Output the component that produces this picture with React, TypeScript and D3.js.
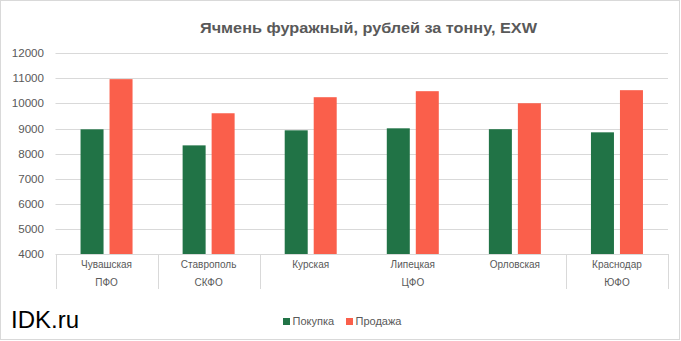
import React from "react";
import * as d3 from "d3";

const categories = ["Чувашская", "Ставрополь", "Курская", "Липецкая", "Орловская", "Краснодар"];
const regions = ["ПФО", "СКФО", "ЦФО", "ЦФО", "ЦФО", "ЮФО"];
const series = ["Покупка", "Продажа"];
const buyValues = [8970, 8330, 8930, 9010, 8975, 8850];
const sellValues = [10970, 9610, 10250, 10490, 10010, 10530];
const yTicks = [4000, 5000, 6000, 7000, 8000, 9000, 10000, 11000, 12000];
const colors = ["#217346", "#FA5F4B"];
const title = "Ячмень фуражный, рублей за тонну, EXW";

const W = 681;
const H = 341;
const FONT = "'Liberation Sans', Arial, sans-serif";

export default function App() {
  const left = 55.5;
  const right = 668;
  const top = 53.3;
  const bottom = 254;

  const x0 = d3.scaleBand<string>().domain(categories).range([left, right]).padding(0);
  const bw = x0.bandwidth();
  const x1 = d3
    .scaleBand<string>()
    .domain(series)
    .range([(bw - 52) / 2, (bw + 52) / 2])
    .paddingInner(6 / 29)
    .paddingOuter(0);
  const y = d3.scaleLinear().domain([4000, 12000]).range([bottom, top]);

  const valuesBySeries = [buyValues, sellValues];

  const groups: { name: string; start: number; end: number }[] = [];
  regions.forEach((r, i) => {
    const g = groups[groups.length - 1];
    if (g && g.name === r) g.end = i;
    else groups.push({ name: r, start: i, end: i });
  });
  const sepX: number[] = [left];
  groups.forEach((g) => sepX.push((x0(categories[g.end]) as number) + bw));

  return (
    <svg
      width={W}
      height={H}
      style={{ position: "absolute", left: 0, top: 0, background: "#fff" }}
      fontFamily={FONT}
    >
      <rect x={0} y={0} width={W} height={H} fill="#fff" />
      <rect x={0.5} y={0.5} width={679} height={339} fill="none" stroke="#d9d9d9" strokeWidth={1} />
      <text
        x={368.5}
        y={33}
        textAnchor="middle"
        fontSize={15.5}
        fontWeight="bold"
        fill="#595959"
        textLength={337}
        lengthAdjust="spacingAndGlyphs"
      >
        {title}
      </text>

      {yTicks.map((t) => (
        <g key={t}>
          <line
            x1={left}
            x2={right}
            y1={Math.round(y(t)) + 0.5}
            y2={Math.round(y(t)) + 0.5}
            stroke="#d9d9d9"
            strokeWidth={1}
          />
          <text x={44} y={y(t) + 4} textAnchor="end" fontSize={11.6} fill="#595959">
            {t}
          </text>
        </g>
      ))}

      {categories.map((c, i) => (
        <g key={c} transform={`translate(${x0(c)},0)`}>
          {series.map((s, j) => (
            <rect
              key={s}
              x={x1(s)}
              y={y(valuesBySeries[j][i])}
              width={x1.bandwidth()}
              height={bottom - y(valuesBySeries[j][i])}
              fill={colors[j]}
            />
          ))}
          <text x={bw / 2} y={268} textAnchor="middle" fontSize={10} fill="#595959">
            {c}
          </text>
        </g>
      ))}

      {groups.map((g) => {
        const cx = ((x0(categories[g.start]) as number) + (x0(categories[g.end]) as number) + bw) / 2;
        return (
          <text key={g.name} x={cx} y={286} textAnchor="middle" fontSize={10} fill="#595959">
            {g.name}
          </text>
        );
      })}

      {sepX.map((sx, i) => (
        <line
          key={i}
          x1={Math.round(sx) + 0.5}
          x2={Math.round(sx) + 0.5}
          y1={bottom}
          y2={289}
          stroke="#d9d9d9"
          strokeWidth={1}
        />
      ))}

      <text x={11} y={328} fontSize={24} fill="#000">
        IDK.ru
      </text>

      {series.map((s, j) => {
        const lx = j === 0 ? 283 : 346;
        return (
          <g key={s}>
            <rect x={lx} y={318} width={7} height={7} fill={colors[j]} />
            <text x={lx + 9.5} y={325} fontSize={11} fill="#595959">
              {s}
            </text>
          </g>
        );
      })}
    </svg>
  );
}
